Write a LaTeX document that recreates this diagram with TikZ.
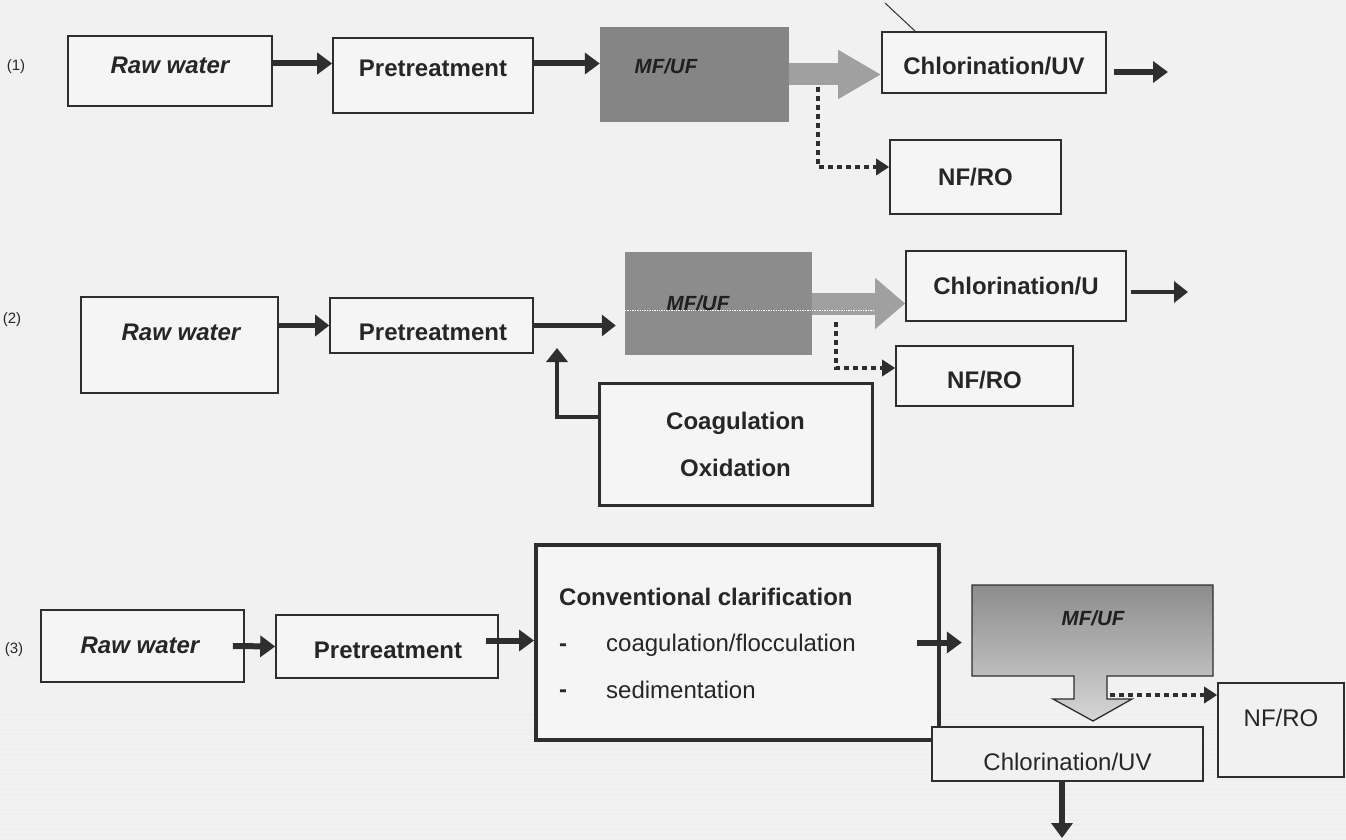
\documentclass[tikz,border=0pt]{standalone}
\usepackage{fontspec}
\setmainfont{Liberation Sans}
\usetikzlibrary{arrows.meta,calc}
\definecolor{bgc}{HTML}{F1F1F1}
\definecolor{boxfill}{HTML}{F5F5F5}
\definecolor{linec}{HTML}{2E2E2E}
\definecolor{txtc}{HTML}{262626}
\definecolor{mfa}{HTML}{858585}
\definecolor{mfb}{HTML}{8C8C8C}
\definecolor{garr}{HTML}{A0A0A0}
\begin{document}
\begin{tikzpicture}[x=1pt,y=-1pt,
  box/.style={draw=linec, line width=1.6pt, fill=boxfill, inner sep=0pt, text=txtc,
    font=\fontsize{24}{28}\selectfont\bfseries},
  tb/.style={inner sep=0pt, text=txtc, font=\fontsize{24}{28}\selectfont\bfseries},
  tbi/.style={inner sep=0pt, text=txtc, font=\fontsize{24}{28}\selectfont\bfseries\itshape},
  tr/.style={inner sep=0pt, text=txtc, font=\fontsize{24}{28}\selectfont},
  mfbox/.style={draw=none, inner sep=0pt},
  mftext/.style={inner sep=0pt, text=black!88, font=\fontsize{20.5}{24}\selectfont\bfseries\itshape},
  numlab/.style={inner sep=0pt, text=txtc, font=\fontsize{15}{18}\selectfont},
  darr/.style={draw=linec, line width=6pt, -{Triangle[length=15pt,width=21pt]}},
  darrb/.style={draw=linec, line width=4.5pt, -{Triangle[length=14pt,width=21pt]}},
  dotarr/.style={draw=linec, line width=4.5pt, dash pattern=on 5pt off 4pt, -{Triangle[length=13pt,width=16pt]}},
  garrow/.style={draw=garr, line width=22pt}
]
\fill[bgc] (0,0) rectangle (1346,840);
\useasboundingbox (0,0) rectangle (1346,840);
\foreach \yy in {714,719,...,839} \draw[gray!14, line width=0.8pt] (0,\yy) -- (1346,\yy);
\draw[linec, line width=1pt] (885,3) -- (915,31);

% ---------- row 1 ----------
\node[numlab] (n1) at (16,67) {(1)};
\node[box, minimum width=204pt, minimum height=70pt] (raw1) at (170,71) {};
\node[tbi] (raw1t) at (170,65.5) {Raw water};
\node[box, minimum width=200pt, minimum height=75pt] (pre1) at (433,75.5) {};
\node[tb] (pre1t) at (433,68) {Pretreatment};
\node[mfbox, fill=mfa, minimum width=189pt, minimum height=95pt] (mf1) at (694.5,74.5) {};
\node[box, minimum width=224pt, minimum height=61pt] (chl1) at (994,62.5) {};
\node[tb] (chl1t) at (994,66) {Chlorination/UV};
\node[box, minimum width=171pt, minimum height=74pt] (nf1) at (975.5,177) {NF/RO};
\coordinate (out1) at (1168,72);
\coordinate (d1) at (818,87);
\draw[darr] ([yshift=7.5pt]raw1.east) -- ([yshift=7.5pt]raw1.east -| pre1.west);
\draw[darr] ([yshift=12pt]pre1.east) -- ([yshift=12pt]pre1.east -| mf1.west);
\draw[garrow, -{Triangle[length=43pt,width=46pt]}] (mf1.east) -- (mf1.east -| chl1.west);
\node[mftext] (mf1t) at (666,66) {MF/UF};
\draw[darr, shorten <=7pt] (chl1.east |- out1) -- (out1);
\draw[dotarr] (d1) |- ([yshift=10pt]nf1.west);

% ---------- row 2 ----------
\node[numlab] (n2) at (12,320) {(2)};
\node[box, minimum width=197pt, minimum height=96pt] (raw2) at (179.5,345) {};
\node[tbi] (raw2t) at (181,332) {Raw water};
\node[box, minimum width=203pt, minimum height=55pt] (pre2) at (431.5,325.5) {};
\node[tb] (pre2t) at (433,332.5) {Pretreatment};
\node[mfbox, fill=mfb, minimum width=187pt, minimum height=103pt] (mf2) at (718.5,303.5) {};
\node[box, minimum width=220pt, minimum height=70pt] (chl2) at (1016,286) {Chlorination/U};
\node[box, minimum width=177pt, minimum height=60pt] (nf2) at (984.5,376) {};
\node[tb] (nf2t) at (984.5,380) {NF/RO};
\node[box, line width=3pt, minimum width=273pt, minimum height=122pt, align=center,
  font=\fontsize{24}{47}\selectfont\bfseries] (coag) at (735.5,444) {Coagulation\\Oxidation};
\draw[garrow, -{Triangle[length=30pt,width=49pt]}] (mf2.east) -- (mf2.east -| chl2.west);
\draw[white, densely dotted, line width=0.7pt] ([yshift=-6.5pt]mf2.west) -- ([yshift=-6.5pt,xshift=62pt]mf2.east);
\node[mftext] (mf2t) at (698,303) {MF/UF};
\coordinate (ctip) at (557,348);
\coordinate (out2) at (1188,292);
\coordinate (d2) at (836,322);
\draw[darrb] (raw2.east |- pre2.west) -- (pre2.west);
\draw[darrb, shorten >=9pt] (pre2.east) -- (pre2.east -| mf2.west);
\draw[darrb] ([yshift=27pt]coag.west) -| (ctip);
\draw[darrb, shorten <=4pt] (chl2.east |- out2) -- (out2);
\draw[dotarr] (d2) |- ([yshift=8pt]nf2.west);

% ---------- row 3 ----------
\node[numlab] (n3) at (14,650) {(3)};
\node[box, minimum width=203pt, minimum height=72pt] (raw3) at (142.5,646) {};
\node[tbi] (raw3t) at (140,645) {Raw water};
\node[box, minimum width=222pt, minimum height=63pt] (pre3) at (387,646.5) {};
\node[tb] (pre3t) at (388,650) {Pretreatment};
\node[box, line width=4pt, minimum width=403pt, minimum height=195pt] (conv) at (737.5,642.5) {};
\node[tb, anchor=west] (cv0) at (559,597) {Conventional clarification};
\node[tb, anchor=west] (cvd1) at (559,648) {-};
\node[tr, anchor=west] (cv1) at (606,645) {coagulation/flocculation};
\node[tb, anchor=west] (cvd2) at (559,694) {-};
\node[tr, anchor=west] (cv2) at (606,690) {sedimentation};
\path[draw=linec, line width=1.3pt, top color=black!45, bottom color=black!16]
  (972,585) -- (1213,585) -- (1213,676) -- (1107,676) -- (1107,699) -- (1132,699)
  -- (1093,721) -- (1053,699) -- (1074,699) -- (1074,676) -- (972,676) -- cycle;
\node[mfbox, minimum width=241pt, minimum height=91pt] (mf3) at (1092.5,630.5) {};
\node[mftext] (mf3t) at (1093,618) {MF/UF};
\node[box, fill=bgc, minimum width=271pt, minimum height=54pt] (chl3) at (1067.5,754) {};
\node[tr] (chl3t) at (1067.5,762) {Chlorination/UV};
\node[box, fill=bgc, minimum width=126pt, minimum height=94pt] (nf3) at (1281,730) {};
\node[tr] (nf3t) at (1281,718) {NF/RO};
\coordinate (d3) at (1110,695);
\coordinate (out3) at (1062,838);
\draw[darr] ([xshift=-12pt]raw3.east) -- (pre3.west);
\draw[darr] ([xshift=-13pt,yshift=6pt]pre3.east) -- ([yshift=6pt]pre3.east -| conv.west);
\draw[darr, shorten >=10pt] ([xshift=-24pt]conv.east) -- (conv.east -| mf3.west);
\draw[dotarr] (d3) -- (d3 -| nf3.west);
\draw[darr] (chl3.south -| out3) -- (out3);
\end{tikzpicture}
\end{document}
